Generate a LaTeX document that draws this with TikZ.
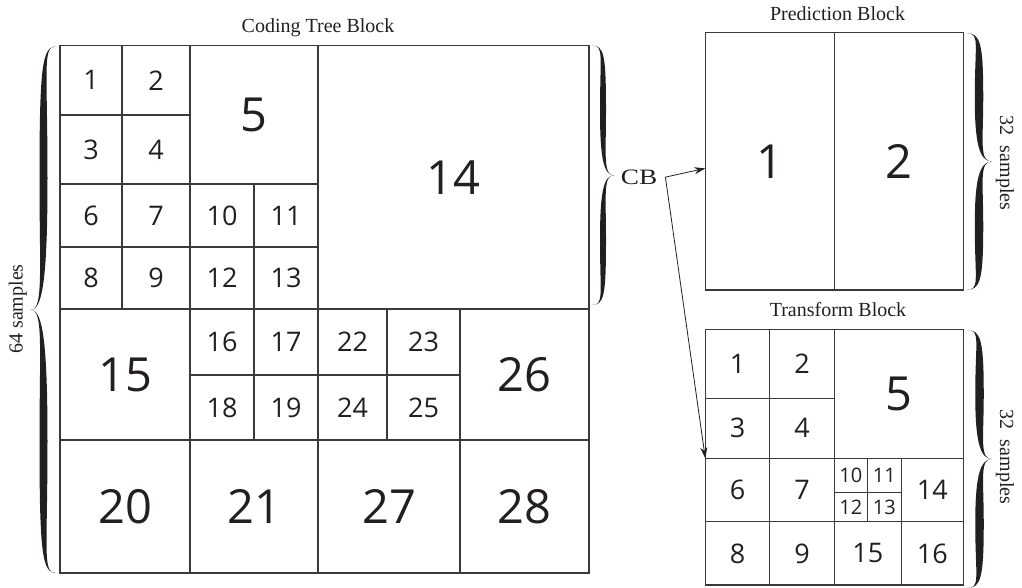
\documentclass[tikz,border=0pt]{standalone}
\usepackage{fontspec}
\setmainfont{Liberation Serif}
\newfontfamily\numfont{Open Sans}
\usetikzlibrary{arrows.meta}
\definecolor{ink}{HTML}{231F20}
\definecolor{gridc}{HTML}{3A3A3A}
\tikzset{
  cellbox/.style={draw=gridc, line width=1.1pt, inner sep=0pt, outer sep=0pt, text=ink,
    font=\numfont\fontsize{27}{27}\selectfont},
  bignum/.style={font=\numfont\fontsize{47}{47}\selectfont},
  smallnum/.style={font=\numfont\fontsize{20}{20}\selectfont},
  lbl/.style={text=ink, font=\fontsize{20}{20}\selectfont, inner sep=0pt},
  cblbl/.style={text=ink, font=\fontsize{22}{22}\selectfont, inner ysep=0pt, inner xsep=8pt},
  arr/.style={draw=ink, line width=0.8pt, -{Stealth[length=11pt,width=7pt]}},
}
% #1 style, #2 name, #3 x1, #4 y1, #5 x2, #6 y2, #7 text
\newcommand{\cellat}[7][]{%
  \node[cellbox,#1,minimum width={(#5-#3)*1pt},minimum height={(#6-#4)*1pt}]
    (#2) at ({(#3+#5)/2},{(#4+#6)/2}) {#7};}
% #1 x0, #2 ytop, #3 ybot, #4 signed depth, #5 thickness
\newcommand{\calbrace}[5]{%
  \pgfmathsetmacro\bxs{#1+0.5*(#4)}%
  \pgfmathsetmacro\bym{0.5*(#2)+0.5*(#3)}%
  \pgfmathsetmacro\bD{0.25*((#3)-(#2))}%
  \pgfmathsetmacro\bqa{#2+\bD}%
  \pgfmathsetmacro\bqb{#3-\bD}%
  \pgfmathsetmacro\bL{\bxs-0.5*(#5)}%
  \pgfmathsetmacro\bR{\bxs+0.5*(#5)}%
  \pgfmathsetmacro\bxt{#1+(#4)}%
  \pgfmathsetmacro\bxh{#1+0.55*(#4)}%
  \fill[ink] (#1,#2) .. controls (\bxh,#2) and (\bL,{#2+0.15*\bD}) .. (\bL,\bqa)
    .. controls (\bL,{\bqa+0.7*\bD}) and (\bxs,\bym) .. (\bxt,\bym)
    .. controls (\bxs,\bym) and (\bL,{\bqb-0.7*\bD}) .. (\bL,\bqb)
    .. controls (\bL,{#3-0.15*\bD}) and (\bxh,#3) .. (#1,#3)
    .. controls (\bxh,#3) and (\bR,{#3-0.15*\bD}) .. (\bR,\bqb)
    .. controls (\bR,{\bqb-0.7*\bD}) and (\bxs,\bym) .. (\bxt,\bym)
    .. controls (\bxs,\bym) and (\bR,{\bqa+0.7*\bD}) .. (\bR,\bqa)
    .. controls (\bR,{#2+0.15*\bD}) and (\bxh,#2) .. cycle;}
\begin{document}
\begin{tikzpicture}[x=1pt,y=-1pt]
\useasboundingbox (0,0) rectangle (1022,587);
% ---------- Coding Tree Block ----------
\cellat{c1}{60}{45.5}{122}{115}{1}
\cellat{c2}{122}{45.5}{190}{115}{2}
\cellat{c3}{60}{115}{122}{184}{3}
\cellat{c4}{122}{115}{190}{184}{4}
\cellat[bignum]{c5}{190}{45.5}{318}{184}{5}
\cellat{c6}{60}{184}{122}{247}{6}
\cellat{c7}{122}{184}{190}{247}{7}
\cellat{c8}{60}{247}{122}{309}{8}
\cellat{c9}{122}{247}{190}{309}{9}
\cellat{c10}{190}{184}{254}{247}{10}
\cellat{c11}{254}{184}{318}{247}{11}
\cellat{c12}{190}{247}{254}{309}{12}
\cellat{c13}{254}{247}{318}{309}{13}
\cellat[bignum]{c14}{318}{45.5}{589}{309}{14}
\cellat[bignum]{c15}{60}{309}{190}{440}{15}
\cellat{c16}{190}{309}{254}{375}{16}
\cellat{c17}{254}{309}{318}{375}{17}
\cellat{c18}{190}{375}{254}{440}{18}
\cellat{c19}{254}{375}{318}{440}{19}
\cellat{c22}{318}{309}{387}{375}{22}
\cellat{c23}{387}{309}{460}{375}{23}
\cellat{c24}{318}{375}{387}{440}{24}
\cellat{c25}{387}{375}{460}{440}{25}
\cellat[bignum]{c26}{460}{309}{589}{440}{26}
\cellat[bignum]{c20}{60}{440}{190}{573}{20}
\cellat[bignum]{c21}{190}{440}{318}{573}{21}
\cellat[bignum]{c27}{318}{440}{460}{573}{27}
\cellat[bignum]{c28}{460}{440}{589}{573}{28}
% ---------- Prediction Block ----------
\cellat[bignum]{pb1}{705.3}{32.7}{834.3}{290}{1}
\cellat[bignum]{pb2}{834.3}{32.7}{963.3}{290}{2}
% ---------- Transform Block ----------
\cellat{tb1}{705.3}{329.3}{769.7}{398.3}{1}
\cellat{tb2}{769.7}{329.3}{834.3}{398.3}{2}
\cellat{tb3}{705.3}{398.3}{769.7}{458.3}{3}
\cellat{tb4}{769.7}{398.3}{834.3}{458.3}{4}
\cellat[bignum]{tb5}{834.3}{329.3}{963.3}{458.3}{5}
\cellat{tb6}{705.3}{458.3}{769.7}{521.7}{6}
\cellat{tb7}{769.7}{458.3}{834.3}{521.7}{7}
\cellat{tb8}{705.3}{521.7}{769.7}{585}{8}
\cellat{tb9}{769.7}{521.7}{834.3}{585}{9}
\cellat[smallnum]{tb10}{834.3}{458.3}{867.3}{492.7}{10}
\cellat[smallnum]{tb11}{867.3}{458.3}{901.3}{492.7}{11}
\cellat[smallnum]{tb12}{834.3}{492.7}{867.3}{521.7}{12}
\cellat[smallnum]{tb13}{867.3}{492.7}{901.3}{521.7}{13}
\cellat{tb14}{901.3}{458.3}{963.3}{521.7}{14}
\cellat{tb15}{834.3}{521.7}{901.3}{585}{15}
\cellat{tb16}{901.3}{521.7}{963.3}{585}{16}
% ---------- labels ----------
\node[lbl, anchor=base] (ctbl) at (318,32.7) {Coding Tree Block};
\node[lbl, anchor=base] (pbl) at (837.5,20) {Prediction Block};
\node[lbl, anchor=base] (tbl) at (838,316.5) {Transform Block};
\node[lbl, anchor=base, rotate=90] (s64) at (22.7,309) {64 samples};
\node[lbl, anchor=base, rotate=-90] (s32a) at (1000,163) {32~~samples};
\node[lbl, anchor=base, rotate=-90] (s32b) at (1000,457) {32~~samples};
\node[cblbl, anchor=base] (cb) at (639,184.3) {\scalebox{1.24}[1]{CB}};
% ---------- braces ----------
\calbrace{56}{46.5}{573}{-25}{8}
\calbrace{592}{45.5}{305}{22}{6}
\calbrace{966}{33}{290}{26}{8.5}
\calbrace{967}{330}{588}{25}{8.5}
% ---------- arrows ----------
\draw[arr] (cb.east) -- ([yshift=-7pt]pb1.west);
\draw[arr] (cb.east) -- (tb6.north west);
\end{tikzpicture}
\end{document}
